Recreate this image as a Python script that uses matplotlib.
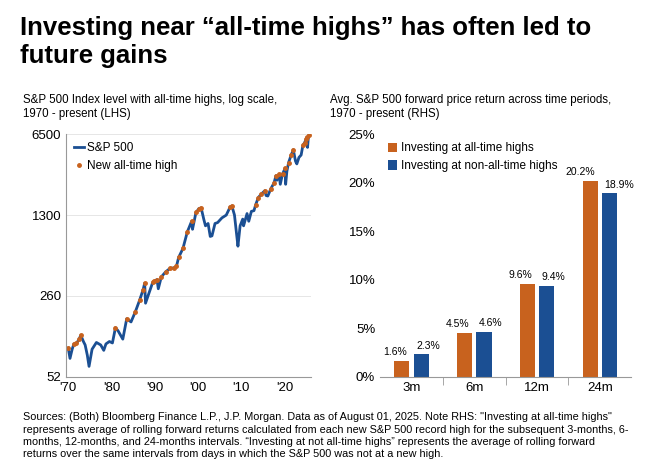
import numpy as np
import matplotlib.pyplot as plt

# S&P 500 index level (approx)
years = [1970.0, 1970.4, 1970.9, 1971.3, 1971.9, 1972.5, 1972.9, 1973.5, 1973.9, 1974.4, 1974.8,
         1975.5, 1976.5, 1977.5, 1978.2, 1978.7, 1979.5, 1980.2, 1980.9, 1981.5, 1982.6, 1983.5,
         1984.5, 1985.5, 1986.5, 1987.3, 1987.65, 1987.85, 1988.5, 1989.5, 1989.9, 1990.5, 1990.8,
         1991.5, 1992.5, 1993.5, 1994.5, 1995.0, 1995.5, 1996.5, 1997.5, 1998.5, 1998.7, 1999.5,
         2000.2, 2000.7, 2001.3, 2001.7, 2002.3, 2002.8, 2003.2, 2003.9, 2004.5, 2005.5, 2006.5,
         2007.4, 2007.8, 2008.4, 2008.9, 2009.2, 2009.7, 2010.3, 2010.5, 2011.3, 2011.7, 2012.3,
         2012.9, 2013.3, 2013.9, 2014.5, 2015.4, 2015.7, 2016.1, 2016.8, 2017.5, 2018.0, 2018.2,
         2018.7, 2018.98, 2019.5, 2020.1, 2020.22, 2020.5, 2020.9, 2021.5, 2021.99, 2022.5,
         2022.8, 2023.3, 2023.8, 2024.2, 2024.6, 2024.95, 2025.1, 2025.28, 2025.45, 2025.6]
sp500 = [92, 75, 90, 100, 101, 110, 119, 105, 98, 80, 64,
         90, 103, 98, 88, 100, 105, 102, 138, 130, 110, 165,
         155, 190, 240, 295, 335, 225, 265, 340, 350, 360, 300,
         380, 420, 450, 455, 470, 560, 670, 930, 1150, 980, 1370,
         1480, 1500, 1200, 1050, 1100, 850, 860, 1100, 1120, 1230, 1300,
         1530, 1560, 1300, 880, 700, 1050, 1200, 1050, 1340, 1150, 1400,
         1420, 1600, 1840, 1960, 2110, 1920, 1900, 2200, 2450, 2850, 2600,
         2930, 2400, 2950, 3300, 2400, 3100, 3700, 4300, 4770, 3800,
         3600, 4100, 4300, 5200, 5500, 5900, 6100, 5000, 6000, 6400]

# Avg forward price return (RHS)
periods = ['3m', '6m', '12m', '24m']
ath_ret = [1.6, 4.5, 9.6, 20.2]
non_ath_ret = [2.3, 4.6, 9.4, 18.9]

blue = '#1b4f93'
orange = '#c8621e'
plt.rcParams['font.family'] = ['Liberation Sans', 'DejaVu Sans']

fig = plt.figure(figsize=(6.61, 4.71), dpi=100)
fig.text(0.03, 0.965, 'Investing near \u201call-time highs\u201d has often led to\nfuture gains',
         fontsize=18.5, fontweight='bold', va='top', linespacing=1.2)
fig.text(0.035, 0.8, 'S&P 500 Index level with all-time highs, log scale,\n1970 - present (LHS)',
         fontsize=8.3, va='top')
fig.text(0.5, 0.8, 'Avg. S&P 500 forward price return across time periods,\n1970 - present (RHS)',
         fontsize=8.3, va='top')
fig.text(0.035, 0.125, 'Sources: (Both) Bloomberg Finance L.P., J.P. Morgan. Data as of August 01, 2025. Note RHS: "Investing at all-time highs"\n'
         'represents average of rolling forward returns calculated from each new S&P 500 record high for the subsequent 3-months, 6-\n'
         'months, 12-months, and 24-months intervals. \u201cInvesting at not all-time highs\u201d represents the average of rolling forward\n'
         'returns over the same intervals from days in which the S&P 500 was not at a new high.',
         fontsize=7.8, va='top', linespacing=1.3)

# left panel
ax1 = fig.add_axes([0.1, 0.2, 0.37, 0.515])
x = np.array(years)
y = np.array(sp500)
ax1.plot(x, y, color=blue, lw=2, label='S&P 500')
is_ath = y >= np.maximum.accumulate(y)
ax1.plot(x[is_ath], y[is_ath], 'o', color=orange, ms=2.5, label='New all-time high')
ax1.set_yscale('log')
ax1.set_ylim(52, 6500)
ax1.set_xlim(1969.5, 2026)
ax1.set_yticks([52, 260, 1300, 6500])
ax1.set_yticklabels(['52', '260', '1300', '6500'])
ax1.minorticks_off()
ax1.set_xticks([1970, 1980, 1990, 2000, 2010, 2020])
ax1.set_xticklabels(["'70", "'80", "'90", "'00", "'10", "'20"])
ax1.grid(axis='y', color='#e6e6e6', lw=0.7)
ax1.tick_params(length=0, labelsize=9.5)
for s in ['top', 'right']:
    ax1.spines[s].set_visible(False)
ax1.spines['left'].set_color('#999999')
ax1.spines['bottom'].set_color('#999999')
ax1.legend(loc='upper left', frameon=False, fontsize=8.5, handlelength=0.8, handletextpad=0.3,
           borderaxespad=0.3)

# right panel
ax2 = fig.add_axes([0.575, 0.2, 0.38, 0.515])
pos = np.arange(len(periods))
w = 0.24
b1 = ax2.bar(pos - w / 2 - 0.035, ath_ret, w, color=orange, label='Investing at all-time highs')
b2 = ax2.bar(pos + w / 2 + 0.035, non_ath_ret, w, color=blue, label='Investing at non-all-time highs')
for r, v in zip(b1, ath_ret):
    ax2.text(r.get_x() + r.get_width() / 2 + 0.08, v + 0.4, f'{v}%', ha='right', va='bottom', fontsize=7.5)
for r, v in zip(b2, non_ath_ret):
    ax2.text(r.get_x() + r.get_width() / 2 - 0.08, v + 0.4, f'{v}%', ha='left', va='bottom', fontsize=7.5)
ax2.set_ylim(0, 25)
ax2.set_xlim(-0.5, 3.5)
ax2.set_yticks([0, 5, 10, 15, 20, 25])
ax2.set_yticklabels([f'{t}%' for t in [0, 5, 10, 15, 20, 25]])
ax2.set_xticks(pos)
ax2.set_xticklabels(periods)
ax2.set_xticks([0.5, 1.5, 2.5], minor=True)
ax2.tick_params(axis='x', which='minor', length=6, color='#999999')
ax2.tick_params(axis='both', which='major', length=0, labelsize=9.5)
for s in ['top', 'right', 'left']:
    ax2.spines[s].set_visible(False)
ax2.spines['bottom'].set_color('#999999')
ax2.legend(loc='upper left', frameon=False, fontsize=8.5, handlelength=0.7, handleheight=0.9,
           handletextpad=0.4, borderaxespad=0.3)

fig.savefig('out.png', dpi=100)
